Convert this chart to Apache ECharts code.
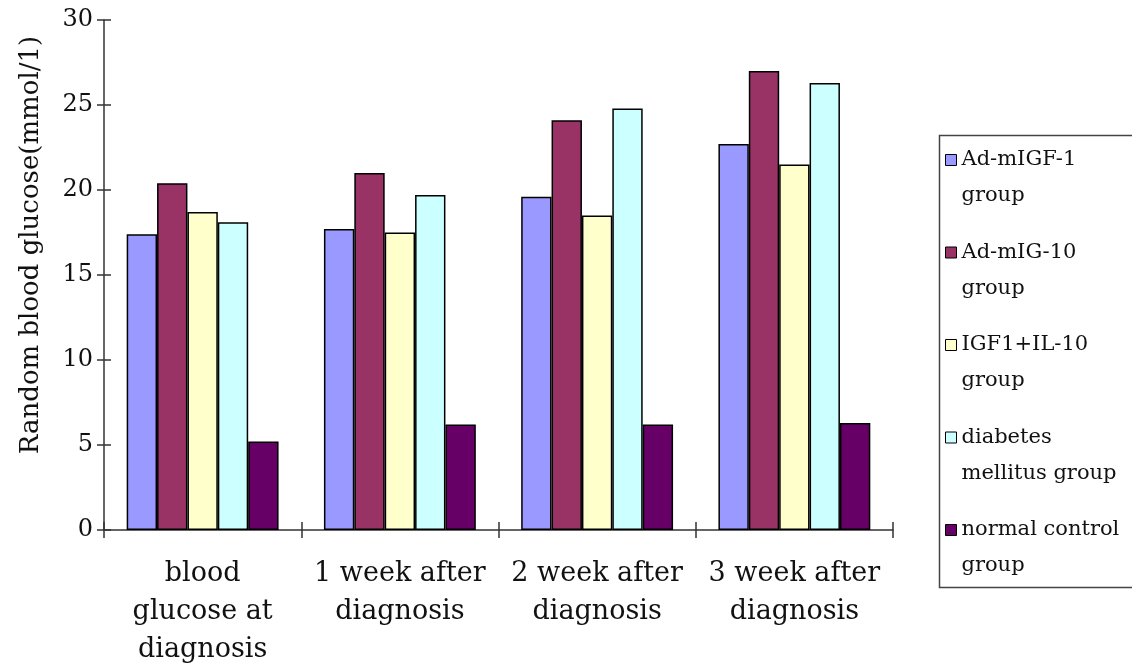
<!DOCTYPE html>
<html>
<head>
<meta charset="utf-8">
<script src="https://cdn.jsdelivr.net/npm/echarts@6/dist/echarts.min.js"></script>
<style>
html,body{margin:0;padding:0;background:#fff;}
#c{width:1132px;height:669px;}
</style>
</head>
<body>
<div id="c"></div>
<script>
var categories = ['blood\nglucose at\ndiagnosis', '1 week after\ndiagnosis', '2 week after\ndiagnosis', '3 week after\ndiagnosis'];
var seriesNames = ['Ad-mIGF-1 group', 'Ad-mIG-10 group', 'IGF1+IL-10 group', 'diabetes mellitus group', 'normal control group'];
var legendLabels = ['Ad-mIGF-1\ngroup', 'Ad-mIG-10\ngroup', 'IGF1+IL-10\ngroup', 'diabetes\nmellitus group', 'normal control\ngroup'];
var adIGF1 = [17.4, 17.7, 19.6, 22.7];
var adIG10 = [20.4, 21.0, 24.1, 27.0];
var igf1IL10 = [18.7, 17.5, 18.5, 21.5];
var diabetes = [18.1, 19.7, 24.8, 26.3];
var normal = [5.2, 6.2, 6.2, 6.3];
var yTicks = {min: 0, max: 30, interval: 5};
var yTitle = 'Random blood glucose(mmol/1)';

var colors = ['#9999FF', '#993366', '#FFFFCC', '#CCFFFF', '#660066'];
var values = [adIGF1, adIG10, igf1IL10, diabetes, normal];
var FONT = 'DejaVu Serif';

var chart = echarts.init(document.getElementById('c'), null, {renderer: 'canvas'});

var series = seriesNames.map(function (n, i) {
  return {
    name: n,
    type: 'bar',
    data: values[i],
    barGap: '0%',
    barCategoryGap: '23%',
    itemStyle: {color: colors[i], borderColor: '#000', borderWidth: 1.5},
    emphasis: {disabled: true},
    animation: false
  };
});

var legendMap = {};
seriesNames.forEach(function (n, i) { legendMap[n] = legendLabels[i]; });

chart.setOption({
  animation: false,
  color: colors,
  grid: {left: 104, right: 239, top: 20, bottom: 137, containLabel: false},
  xAxis: [{
    type: 'category',
    data: categories,
    position: 'bottom',
    axisLine: {lineStyle: {color: '#333', width: 1.5}},
    axisTick: {show: true, length: 8, lineStyle: {color: '#333', width: 1.5}},
    axisLabel: {interval: 0, margin: 25, fontFamily: FONT, fontSize: 27, lineHeight: 38, color: '#111'},
    splitLine: {show: false}
  }, {
    type: 'category',
    data: categories,
    position: 'bottom',
    axisLine: {show: false},
    axisTick: {show: true, inside: true, length: 8, lineStyle: {color: '#333', width: 1.5}},
    axisLabel: {show: false},
    splitLine: {show: false}
  }],
  yAxis: [{
    type: 'value',
    position: 'left',
    min: yTicks.min, max: yTicks.max, interval: yTicks.interval,
    name: yTitle,
    nameLocation: 'middle',
    nameGap: 60,
    nameTextStyle: {fontFamily: FONT, fontSize: 26, color: '#111', padding: [0, 0, 0, 60]},
    axisLine: {show: true, lineStyle: {color: '#333', width: 1.5}},
    axisTick: {show: true, length: 7, lineStyle: {color: '#333', width: 1.5}},
    axisLabel: {margin: 11, fontFamily: FONT, fontSize: 24, color: '#111'},
    splitLine: {show: false}
  }, {
    type: 'value',
    position: 'left',
    min: yTicks.min, max: yTicks.max, interval: yTicks.interval,
    axisLine: {show: false},
    axisTick: {show: true, inside: true, length: 7, lineStyle: {color: '#333', width: 1.5}},
    axisLabel: {show: false},
    splitLine: {show: false}
  }],
  legend: {
    orient: 'vertical',
    left: 945,
    top: 106,
    padding: 0,
    itemGap: -15.5,
    itemWidth: 11,
    itemHeight: 11,
    icon: 'rect',
    itemStyle: {borderColor: '#000', borderWidth: 1},
    selectedMode: false,
    data: seriesNames,
    formatter: function (n) { return '\n' + legendMap[n]; },
    textStyle: {fontFamily: FONT, fontSize: 21, lineHeight: 36, color: '#111'}
  },
  graphic: [{
    type: 'rect',
    left: 937, top: 133,
    shape: {width: 240, height: 452},
    style: {fill: 'none', stroke: '#444', lineWidth: 1.5},
    silent: true
  }],
  series: series
});
</script>
</body>
</html>
